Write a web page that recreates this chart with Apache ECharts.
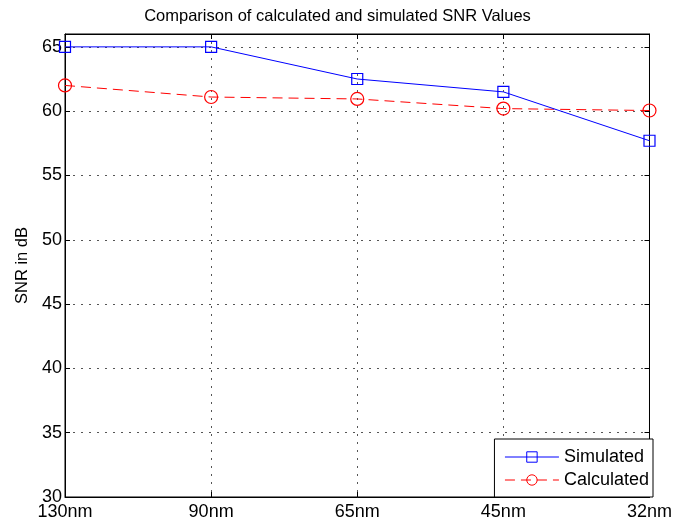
<!DOCTYPE html>
<html>
<head>
<meta charset="utf-8">
<script src="https://cdn.jsdelivr.net/npm/echarts@6/dist/echarts.min.js"></script>
<style>
  html, body { margin: 0; padding: 0; background: #fff; }
  #chart { width: 675px; height: 524px; }
</style>
</head>
<body>
<div id="chart"></div>
<script>
// Process nodes on the x axis
const nodes = ['130nm', '90nm', '65nm', '45nm', '32nm'];
// SNR in dB for each node
const simulated = [65.0, 65.0, 62.5, 61.5, 57.7];
const calculated = [62.0, 61.1, 60.95, 60.2, 60.05];
// y axis range and step
const yMin = 30, yMax = 66, yStep = 5;

const FONT = '"Liberation Sans", Arial, Helvetica, sans-serif';
const grid = { left: 65, right: 22, top: 34, bottom: 27 };
const dotted = { show: true, lineStyle: { color: '#555', width: 1, type: [2, 6] } };

const chart = echarts.init(document.getElementById('chart'), null, { renderer: 'canvas' });

chart.setOption({
  animation: false,
  backgroundColor: '#fff',
  textStyle: { fontFamily: FONT },
  title: {
    text: 'Comparison of calculated and simulated SNR Values',
    left: 'center',
    top: 3,
    textStyle: { fontFamily: FONT, fontSize: 16.5, fontWeight: 'normal', color: '#000' }
  },
  grid: Object.assign({ show: true, borderColor: '#000', borderWidth: 1, backgroundColor: 'transparent' }, grid),
  legend: {
    right: 22,
    bottom: 27,
    orient: 'vertical',
    backgroundColor: '#fff',
    borderColor: '#000',
    borderWidth: 1,
    borderRadius: 0,
    padding: [9, 4, 8, 10],
    itemGap: 5,
    itemWidth: 54,
    itemHeight: 13,
    lineStyle: { width: 1 },
    itemStyle: { borderWidth: 1 },
    textStyle: { fontFamily: FONT, fontSize: 18, color: '#000' },
    data: ['Simulated', 'Calculated']
  },
  xAxis: [{
    type: 'category',
    data: nodes,
    boundaryGap: false,
    axisLine: { show: true, lineStyle: { color: '#000' } },
    axisTick: { show: true, inside: true, length: 5, lineStyle: { color: '#000' } },
    axisLabel: { fontFamily: FONT, fontSize: 18, color: '#000', margin: 6 },
    splitLine: dotted
  }, {
    type: 'category',
    data: nodes,
    position: 'top',
    boundaryGap: false,
    axisLine: { show: true, lineStyle: { color: '#000' } },
    axisTick: { show: true, inside: true, length: 5, lineStyle: { color: '#000' } },
    axisLabel: { show: false },
    splitLine: { show: false }
  }],
  yAxis: [{
    type: 'value',
    min: yMin,
    max: yMax,
    interval: yStep,
    name: 'SNR in dB',
    nameLocation: 'middle',
    nameGap: 34,
    nameTextStyle: { fontFamily: FONT, fontSize: 16.5, color: '#000' },
    axisLine: { show: true, lineStyle: { color: '#000' } },
    axisTick: { show: true, inside: true, length: 5, lineStyle: { color: '#000' } },
    axisLabel: { fontFamily: FONT, fontSize: 18, color: '#000', margin: 3, showMaxLabel: false },
    splitLine: dotted
  }, {
    type: 'value',
    min: yMin,
    max: yMax,
    interval: yStep,
    position: 'right',
    axisLine: { show: true, lineStyle: { color: '#000' } },
    axisTick: { show: true, inside: true, length: 5, lineStyle: { color: '#000' } },
    axisLabel: { show: false },
    splitLine: { show: false }
  }],
  series: [{
    name: 'Simulated',
    type: 'line',
    data: simulated,
    symbol: 'rect',
    symbolSize: 11,
    color: '#0000ff',
    lineStyle: { color: '#0000ff', width: 1 },
    itemStyle: { color: 'rgba(0,0,0,0)', borderColor: '#0000ff', borderWidth: 1.2 },
    z: 3
  }, {
    name: 'Calculated',
    type: 'line',
    data: calculated,
    symbol: 'circle',
    symbolSize: 13,
    color: '#ff0000',
    lineStyle: { color: '#ff0000', width: 1, type: [10, 6] },
    itemStyle: { color: 'rgba(0,0,0,0)', borderColor: '#ff0000', borderWidth: 1.2 },
    z: 2
  }]
});
</script>
</body>
</html>
